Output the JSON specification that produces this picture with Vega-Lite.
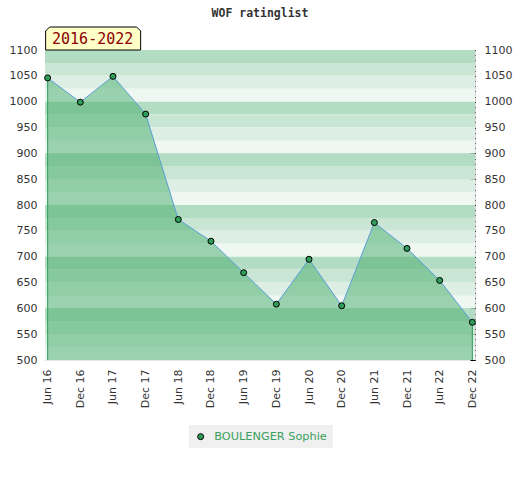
{
  "$schema": "https://vega.github.io/schema/vega-lite/v6.json",
  "width": 430,
  "height": 310,
  "autosize": {"type": "none"},
  "padding": {"left": 45, "top": 50, "right": 45, "bottom": 120},
  "background": "white",
  "title": {"text": "WOF ratinglist", "font": "DejaVu Sans Mono", "fontSize": 11.5, "fontWeight": "bold", "color": "#333333", "frame": "group", "anchor": "middle", "offset": 6},
  "config": {
    "view": {"stroke": "#d4d4d4"},
    "axis": {"labelFont": "DejaVu Sans", "labelFontSize": 11, "labelColor": "#333333"}
  },
  "datasets": {
    "ratings": [
      {"period": "Jun 16", "rating": 1046, "player": "BOULENGER Sophie"},
      {"period": "Dec 16", "rating": 999, "player": "BOULENGER Sophie"},
      {"period": "Jun 17", "rating": 1049, "player": "BOULENGER Sophie"},
      {"period": "Dec 17", "rating": 976, "player": "BOULENGER Sophie"},
      {"period": "Jun 18", "rating": 772, "player": "BOULENGER Sophie"},
      {"period": "Dec 18", "rating": 730, "player": "BOULENGER Sophie"},
      {"period": "Jun 19", "rating": 669, "player": "BOULENGER Sophie"},
      {"period": "Dec 19", "rating": 608, "player": "BOULENGER Sophie"},
      {"period": "Jun 20", "rating": 695, "player": "BOULENGER Sophie"},
      {"period": "Dec 20", "rating": 605, "player": "BOULENGER Sophie"},
      {"period": "Jun 21", "rating": 766, "player": "BOULENGER Sophie"},
      {"period": "Dec 21", "rating": 716, "player": "BOULENGER Sophie"},
      {"period": "Jun 22", "rating": 654, "player": "BOULENGER Sophie"},
      {"period": "Dec 22", "rating": 573, "player": "BOULENGER Sophie"}
    ],
    "bands": [
      {"lo": 1075, "hi": 1100, "shade": 1}, {"lo": 1050, "hi": 1075, "shade": 2}, {"lo": 1025, "hi": 1050, "shade": 3}, {"lo": 1000, "hi": 1025, "shade": 4},
      {"lo": 975, "hi": 1000, "shade": 1}, {"lo": 950, "hi": 975, "shade": 2}, {"lo": 925, "hi": 950, "shade": 3}, {"lo": 900, "hi": 925, "shade": 4},
      {"lo": 875, "hi": 900, "shade": 1}, {"lo": 850, "hi": 875, "shade": 2}, {"lo": 825, "hi": 850, "shade": 3}, {"lo": 800, "hi": 825, "shade": 4},
      {"lo": 775, "hi": 800, "shade": 1}, {"lo": 750, "hi": 775, "shade": 2}, {"lo": 725, "hi": 750, "shade": 3}, {"lo": 700, "hi": 725, "shade": 4},
      {"lo": 675, "hi": 700, "shade": 1}, {"lo": 650, "hi": 675, "shade": 2}, {"lo": 625, "hi": 650, "shade": 3}, {"lo": 600, "hi": 625, "shade": 4},
      {"lo": 575, "hi": 600, "shade": 1}, {"lo": 550, "hi": 575, "shade": 2}, {"lo": 525, "hi": 550, "shade": 3}, {"lo": 500, "hi": 525, "shade": 4}
    ],
    "badge": [{"label": "2016-2022", "period": "Jun 16", "rating": 1100}]
  },
  "resolve": {"axis": {"y": "independent"}, "scale": {"color": "independent"}},
  "layer": [
    {
      "data": {"name": "bands"},
      "mark": {"type": "rect"},
      "encoding": {
        "y": {"field": "lo", "type": "quantitative", "scale": {"domain": [500, 1100], "nice": false, "zero": false},
          "axis": {"orient": "left", "title": null, "format": "d", "values": [500,525,550,575,600,625,650,675,700,725,750,775,800,825,850,875,900,925,950,975,1000,1025,1050,1075,1100],
            "labelExpr": "datum.value % 50 === 0 ? datum.label : ''", "ticks": false, "domain": false, "labelPadding": 8,
            "grid": true, "gridColor": "#e3e8e5", "gridWidth": 1}},
        "y2": {"field": "hi"},
        "color": {"field": "shade", "type": "ordinal", "scale": {"domain": [1, 2, 3, 4], "range": ["#b3ddc3", "#c9e6d4", "#ddefe4", "#eff7f2"]}, "legend": null}
      }
    },
    {
      "data": {"name": "ratings"},
      "mark": {"type": "area", "fill": "#46ab6a", "opacity": 0.5},
      "encoding": {
        "x": {"field": "period", "type": "ordinal", "sort": ["Jun 16","Dec 16","Jun 17","Dec 17","Jun 18","Dec 18","Jun 19","Dec 19","Jun 20","Dec 20","Jun 21","Dec 21","Jun 22","Dec 22"], "scale": {"type": "point", "padding": 0.081},
          "axis": {"orient": "bottom", "title": null, "labelAngle": -90, "ticks": false, "domain": false, "labelPadding": 9, "grid": false}},
        "y": {"field": "rating", "type": "quantitative", "axis": null},
        "y2": {"datum": 500}
      }
    },
    {
      "data": {"name": "ratings"},
      "transform": [{"filter": {"field": "period", "oneOf": ["Jun 16", "Dec 22"]}}],
      "mark": {"type": "rule", "color": "#2e9e5a", "strokeWidth": 1},
      "encoding": {
        "x": {"field": "period", "type": "ordinal", "sort": ["Jun 16","Dec 16","Jun 17","Dec 17","Jun 18","Dec 18","Jun 19","Dec 19","Jun 20","Dec 20","Jun 21","Dec 21","Jun 22","Dec 22"]},
        "y": {"field": "rating", "type": "quantitative", "axis": null},
        "y2": {"datum": 500}
      }
    },
    {
      "data": {"name": "ratings"},
      "mark": {"type": "line", "color": "#5b9fd6", "strokeWidth": 1},
      "encoding": {
        "x": {"field": "period", "type": "ordinal", "sort": ["Jun 16","Dec 16","Jun 17","Dec 17","Jun 18","Dec 18","Jun 19","Dec 19","Jun 20","Dec 20","Jun 21","Dec 21","Jun 22","Dec 22"]},
        "y": {"field": "rating", "type": "quantitative",
          "axis": {"orient": "right", "title": null, "grid": false, "domain": false, "labels": false, "offset": -3,
            "values": [500,510,520,530,540,550,560,570,580,590,600,610,620,630,640,650,660,670,680,690,700,710,720,730,740,750,760,770,780,790,800,810,820,830,840,850,860,870,880,890,900,910,920,930,940,950,960,970,980,990,1000,1010,1020,1030,1040,1050,1060,1070,1080,1090,1100],
            "ticks": true, "tickSize": 3, "tickColor": "#000000", "tickWidth": 1}}
      }
    },
    {
      "data": {"name": "ratings"},
      "mark": {"type": "point", "filled": true, "size": 36, "stroke": "#000000", "strokeWidth": 1, "opacity": 1},
      "encoding": {
        "x": {"field": "period", "type": "ordinal", "sort": ["Jun 16","Dec 16","Jun 17","Dec 17","Jun 18","Dec 18","Jun 19","Dec 19","Jun 20","Dec 20","Jun 21","Dec 21","Jun 22","Dec 22"]},
        "y": {"field": "rating", "type": "quantitative",
          "axis": {"orient": "right", "title": null, "grid": false, "domain": false, "format": "d", "offset": -5,
            "values": [500,550,600,650,700,750,800,850,900,950,1000,1050,1100],
            "ticks": true, "tickSize": 5, "tickColor": "#000000", "tickWidth": 1, "labelPadding": 9}},
        "fill": {"field": "player", "type": "nominal", "scale": {"range": ["#2e9e5a"]},
          "legend": {"orient": "none", "legendX": 144, "legendY": 375, "title": null, "fillColor": "#f0f0f0", "padding": 6,
            "labelColor": "#3a9f5e", "labelFont": "DejaVu Sans", "labelFontSize": 11.3, "labelOffset": 8,
            "symbolType": "circle", "symbolSize": 36, "symbolStrokeColor": "#000000", "symbolStrokeWidth": 1, "symbolOpacity": 1}}
      }
    },
    {
      "data": {"name": "badge"},
      "mark": {"type": "point", "shape": "M-2,0 L-2,-19 L2,-23 L89,-23 L93,-19 L93,0 Z", "size": 4, "filled": true, "fill": "#ffffc8", "stroke": "#000000", "strokeWidth": 1, "opacity": 1},
      "encoding": {
        "x": {"field": "period", "type": "ordinal", "sort": ["Jun 16","Dec 16","Jun 17","Dec 17","Jun 18","Dec 18","Jun 19","Dec 19","Jun 20","Dec 20","Jun 21","Dec 21","Jun 22","Dec 22"]},
        "y": {"field": "rating", "type": "quantitative", "axis": null}
      }
    },
    {
      "data": {"name": "badge"},
      "mark": {"type": "text", "font": "DejaVu Sans Mono", "fontSize": 15, "color": "#8b0000", "align": "center", "baseline": "middle", "dx": 45, "dy": -11},
      "encoding": {
        "x": {"field": "period", "type": "ordinal", "sort": ["Jun 16","Dec 16","Jun 17","Dec 17","Jun 18","Dec 18","Jun 19","Dec 19","Jun 20","Dec 20","Jun 21","Dec 21","Jun 22","Dec 22"]},
        "y": {"field": "rating", "type": "quantitative", "axis": null},
        "text": {"field": "label"}
      }
    }
  ]
}
